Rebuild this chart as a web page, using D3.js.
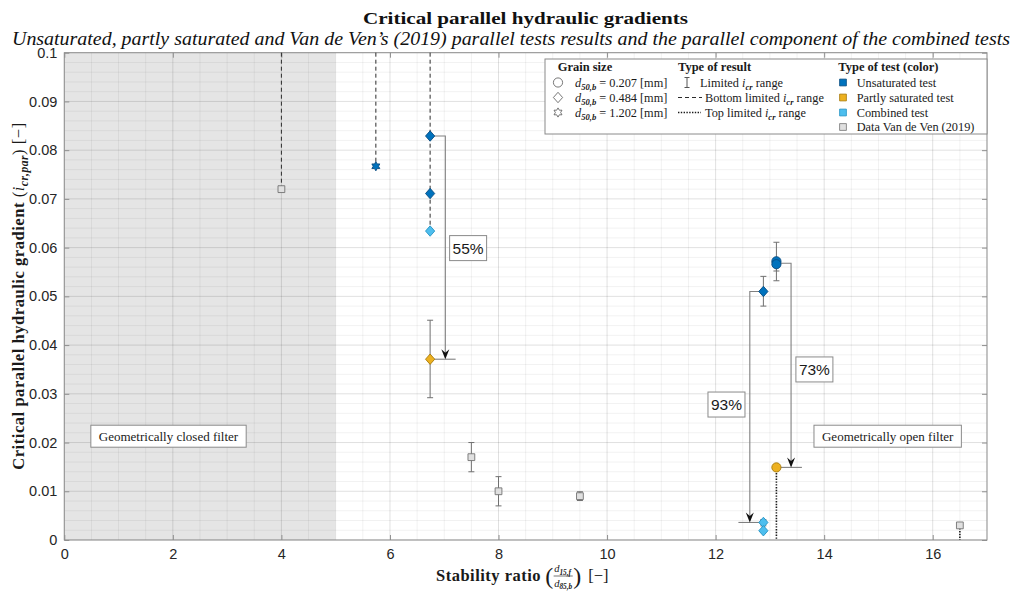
<!DOCTYPE html>
<html><head><meta charset="utf-8">
<script src="https://cdn.jsdelivr.net/npm/d3@7"></script>
<style>body{margin:0;background:#fff}svg{display:block}</style>
</head><body>
<svg id="c" width="1015" height="592"></svg>
<script>
// ---------------- data ----------------
const xTicks = [0, 2, 4, 6, 8, 10, 12, 14, 16];
const xTickLabels = ["0", "2", "4", "6", "8", "10", "12", "14", "16"];
const yTicks = [0, 0.01, 0.02, 0.03, 0.04, 0.05, 0.06, 0.07, 0.08, 0.09, 0.1];
const yTickLabels = ["0", "0.01", "0.02", "0.03", "0.04", "0.05", "0.06", "0.07", "0.08", "0.09", "0.1"];

// Unsaturated tests
const unsatX = [5.74, 6.74, 6.74, 13.12, 13.12, 12.88];
const unsatY = [0.0767, 0.0829, 0.0711, 0.0572, 0.0566, 0.0510];
const unsatLo = [null, null, null, 0.0532, 0.0552, 0.0480];
const unsatHi = [null, null, null, 0.0611, 0.0576, 0.0541];
const unsatGrain = ["1.202", "0.484", "0.484", "0.207", "0.207", "0.484"];
const unsatLimit = ["bottom", "bottom", "bottom", "range", "range", "range"];

// Partly saturated tests
const partX = [6.74, 13.12];
const partY = [0.0371, 0.0149];
const partLo = [0.0292, null];
const partHi = [0.0451, null];
const partGrain = ["0.484", "0.207"];
const partLimit = ["range", "top"];

// Combined tests (parallel component)
const combX = [6.74, 12.88, 12.88];
const combY = [0.0634, 0.0036, 0.0019];
const combLo = [null, 0.0029, null];
const combHi = [null, 0.0042, null];
const combGrain = ["0.484", "0.484", "0.484"];
const combLimit = ["bottom", "range", "none"];

// Van de Ven (2019)
const vdvX = [4, 7.5, 8, 9.5, 16.5];
const vdvY = [0.072, 0.017, 0.010, 0.009, 0.003];
const vdvLo = [null, 0.014, 0.007, 0.0081, null];
const vdvHi = [null, 0.020, 0.013, 0.0099, null];
const vdvLimit = ["bottom", "range", "range", "range", "top"];

// Geometrically closed filter region
const closedRange = [0, 5];

// Reduction annotations
const redLabels = ["55%", "93%", "73%"];
const redFromX = [6.74, 12.88, 13.12];
const redFromY = [0.0829, 0.0510, 0.0568];
const redTurnX = [7.02, 12.63, 13.39];
const redToY = [0.0371, 0.0036, 0.0149];
const redBaseX0 = [6.80, 12.42, 13.12];
const redBaseX1 = [7.21, 12.88, 13.59];
const redLabelX = [7.44, 12.20, 13.82];
const redLabelY = [0.0599, 0.0278, 0.0350];

// Region labels
const regionLabels = ["Geometrically closed filter", "Geometrically open filter"];
const regionX = [1.92, 15.17];
const regionY = [0.0213, 0.0213];

// Legend
const grainSizes = ["0.207", "0.484", "1.202"];
const resultTypes = ["Limited", "Bottom limited", "Top limited"];
const testTypes = ["Unsaturated test", "Partly saturated test", "Combined test", "Data Van de Ven (2019)"];

// ---------------- drawing ----------------
const svg = d3.select("#c");
const L = 64.3, R = 987, T = 52.7, B = 540;
const x = d3.scaleLinear().domain([0, 17]).range([L, R]);
const y = d3.scaleLinear().domain([0, 0.1]).range([B, T]);

const SERIF = "'Liberation Serif', 'Times New Roman', serif";
const SANS = "'Liberation Sans', Arial, Helvetica, sans-serif";
const AX = "#8f8f8f";

const colors = {
  unsat: {fill: "#0072BD", stroke: "#0a4c80"},
  part: {fill: "#EDB120", stroke: "#a77a0c"},
  comb: {fill: "#4DBEEE", stroke: "#2593c4"},
  vdv: {fill: "#e0e0e0", stroke: "#737373"}
};

// custom symbols
const diamondSym = {draw(ctx, s) { const w = 4.6, h = 5.2; ctx.moveTo(0, -h); ctx.lineTo(w, 0); ctx.lineTo(0, h); ctx.lineTo(-w, 0); ctx.closePath(); }};
const hexagramSym = {draw(ctx, s) {
  const ro = 4.6, ri = ro / Math.sqrt(3);
  for (let i = 0; i < 12; i++) {
    const a = -Math.PI / 2 + i * Math.PI / 6;
    const r = i % 2 === 0 ? ro : ri;
    const px = r * Math.cos(a), py = r * Math.sin(a);
    if (i === 0) ctx.moveTo(px, py); else ctx.lineTo(px, py);
  }
  ctx.closePath();
}};
const circleSym = {draw(ctx, s) { ctx.moveTo(4.6, 0); ctx.arc(0, 0, 4.6, 0, 2 * Math.PI); }};
const squareSym = {draw(ctx, s) { const h = 3.4; ctx.rect(-h, -h, 2 * h, 2 * h); }};
const symFor = g => g === "0.207" ? circleSym : g === "0.484" ? diamondSym : hexagramSym;

// background
svg.append("rect").attr("x", L).attr("y", T).attr("width", R - L).attr("height", B - T).attr("fill", "#fff");
// shaded closed-filter region
svg.append("rect").attr("x", x(closedRange[0])).attr("y", T)
  .attr("width", x(closedRange[1]) - x(closedRange[0])).attr("height", B - T).attr("fill", "#e5e5e5");

// grid
const grid = svg.append("g");
d3.range(0, 17.001, 0.5).forEach(v => {
  const major = Math.abs(v / 2 - Math.round(v / 2)) < 1e-6;
  grid.append("line").attr("x1", x(v)).attr("x2", x(v)).attr("y1", T).attr("y2", B)
    .attr("stroke", major ? "rgba(0,0,0,0.12)" : "rgba(0,0,0,0.055)").attr("stroke-width", 1);
});
d3.range(0, 0.10001, 0.002).forEach(v => {
  const major = Math.abs(v / 0.01 - Math.round(v / 0.01)) < 1e-6;
  grid.append("line").attr("x1", L).attr("x2", R).attr("y1", y(v)).attr("y2", y(v))
    .attr("stroke", major ? "rgba(0,0,0,0.12)" : "rgba(0,0,0,0.055)").attr("stroke-width", 1);
});

// axes
const xAxis = svg.append("g").attr("transform", `translate(0,${B})`)
  .call(d3.axisBottom(x).tickValues(xTicks).tickFormat((d, i) => xTickLabels[i]).tickSizeInner(-5).tickSizeOuter(0).tickPadding(9));
const xAxisTop = svg.append("g").attr("transform", `translate(0,${T})`)
  .call(d3.axisTop(x).tickValues(xTicks).tickFormat("").tickSizeInner(-5).tickSizeOuter(0));
const yAxis = svg.append("g").attr("transform", `translate(${L},0)`)
  .call(d3.axisLeft(y).tickValues(yTicks).tickFormat((d, i) => yTickLabels[i]).tickSizeInner(-5).tickSizeOuter(0).tickPadding(7));
const yAxisR = svg.append("g").attr("transform", `translate(${R},0)`)
  .call(d3.axisRight(y).tickValues(yTicks).tickFormat("").tickSizeInner(-5).tickSizeOuter(0));
[xAxis, xAxisTop, yAxis, yAxisR].forEach(a => {
  a.select(".domain").remove();
  a.selectAll(".tick line").attr("stroke", AX);
  a.selectAll(".tick text").attr("font-family", SANS).attr("font-size", 14.5).attr("fill", "#262626");
});
svg.append("rect").attr("x", L).attr("y", T).attr("width", R - L).attr("height", B - T)
  .attr("fill", "none").attr("stroke", AX).attr("stroke-width", 1);

// series
const series = [
  {key: "vdv", xs: vdvX, ys: vdvY, lo: vdvLo, hi: vdvHi, grain: vdvX.map(() => "sq"), limit: vdvLimit},
  {key: "unsat", xs: unsatX, ys: unsatY, lo: unsatLo, hi: unsatHi, grain: unsatGrain, limit: unsatLimit},
  {key: "part", xs: partX, ys: partY, lo: partLo, hi: partHi, grain: partGrain, limit: partLimit},
  {key: "comb", xs: combX, ys: combY, lo: combLo, hi: combHi, grain: combGrain, limit: combLimit}
];
const lineG = svg.append("g");
const errG = svg.append("g");
const arrowG = svg.append("g");
const markG = svg.append("g");

// bottom-limited results: one dashed line per x position, from the top edge down to the lowest such point
const bottomLowest = new Map();
series.forEach(s => s.xs.forEach((xv, i) => {
  if (s.limit[i] === "bottom") {
    const prev = bottomLowest.get(xv);
    bottomLowest.set(xv, prev == null ? s.ys[i] : Math.min(prev, s.ys[i]));
  }
}));
bottomLowest.forEach((yv, xv) => {
  lineG.append("line").attr("x1", x(xv)).attr("x2", x(xv)).attr("y1", y(0.1)).attr("y2", y(yv))
    .attr("stroke", "#2b2b2b").attr("stroke-width", 1).attr("stroke-dasharray", "4,3");
});

series.forEach(s => {
  s.xs.forEach((xv, i) => {
    const lim = s.limit[i];
    if (lim === "top") {
      lineG.append("line").attr("x1", x(xv)).attr("x2", x(xv)).attr("y1", y(s.ys[i])).attr("y2", y(0))
        .attr("stroke", "#1a1a1a").attr("stroke-width", 1.6).attr("stroke-dasharray", "1.4,1.4");
    } else if (lim === "range" && s.lo[i] != null) {
      const cx = x(xv), y1 = y(s.lo[i]), y2 = y(s.hi[i]);
      errG.append("line").attr("x1", cx).attr("x2", cx).attr("y1", y1).attr("y2", y2).attr("stroke", "#707070").attr("stroke-width", 1);
      [y1, y2].forEach(yy => errG.append("line").attr("x1", cx - 3).attr("x2", cx + 3).attr("y1", yy).attr("y2", yy).attr("stroke", "#707070").attr("stroke-width", 1));
    }
  });
});

// reduction arrows
redLabels.forEach((lab, i) => {
  const fx = x(redFromX[i]), fy = y(redFromY[i]), tx = x(redTurnX[i]), ty = y(redToY[i]);
  arrowG.append("path").attr("d", `M${fx},${fy}H${tx}V${ty - 2}`).attr("fill", "none").attr("stroke", "#808080").attr("stroke-width", 1.1);
  arrowG.append("line").attr("x1", x(redBaseX0[i])).attr("x2", x(redBaseX1[i])).attr("y1", ty).attr("y2", ty)
    .attr("stroke", "#808080").attr("stroke-width", 1.1);
  arrowG.append("path").attr("d", `M${tx},${ty}L${tx - 4},${ty - 10}L${tx},${ty - 6.5}L${tx + 4},${ty - 10}Z`).attr("fill", "#111");
});

// markers
series.forEach(s => {
  s.xs.forEach((xv, i) => {
    const sym = s.grain[i] === "sq" ? squareSym : symFor(s.grain[i]);
    markG.append("path").attr("d", d3.symbol().type(sym)())
      .attr("transform", `translate(${x(xv)},${y(s.ys[i])})`)
      .attr("fill", colors[s.key].fill).attr("stroke", colors[s.key].stroke).attr("stroke-width", 0.9);
  });
});

// reduction labels
const labG = svg.append("g");
redLabels.forEach((lab, i) => {
  const cx = x(redLabelX[i]), cy = y(redLabelY[i]);
  labG.append("rect").attr("x", cx - 18.5).attr("y", cy - 12.5).attr("width", 37).attr("height", 25)
    .attr("fill", "#fff").attr("stroke", "#8a8a8a").attr("stroke-width", 1);
  labG.append("text").attr("x", cx).attr("y", cy + 5.5).attr("text-anchor", "middle")
    .attr("font-family", SANS).attr("font-size", 15.5).attr("fill", "#1a1a1a").text(lab);
});

// region labels
regionLabels.forEach((lab, i) => {
  const cx = x(regionX[i]), cy = y(regionY[i]);
  const t = labG.append("text").attr("x", cx).attr("y", cy + 4.3).attr("text-anchor", "middle")
    .attr("font-family", SERIF).attr("font-size", 13).attr("fill", "#1a1a1a").text(lab);
  const w = t.node().getComputedTextLength();
  labG.insert("rect", "text").attr("x", cx - w / 2 - 8).attr("y", cy - 11).attr("width", w + 16).attr("height", 22)
    .attr("fill", "#fff").attr("stroke", "#8a8a8a").attr("stroke-width", 1);
});

// helper for text with math parts
function mathText(parent, xx, yy, parts, size, anchor, ls) {
  const t = parent.append("text").attr("x", xx).attr("y", yy).attr("font-family", SERIF)
    .attr("font-size", size).attr("fill", "#1a1a1a").attr("text-anchor", anchor || "start");
  if (ls) t.attr("letter-spacing", ls);
  let shift = 0;
  parts.forEach(p => {
    const [str, st] = p;
    const ts = t.append("tspan").text(str);
    let target = 0;
    if (st.includes("sub")) { ts.attr("font-size", size * 0.7); target = size * 0.25; }
    if (st.includes("i")) ts.attr("font-style", "italic");
    if (st.includes("b")) ts.attr("font-weight", "bold");
    if (target !== shift) { ts.attr("dy", target - shift); shift = target; }
  });
  return t;
}

// legend
const lg = svg.append("g");
lg.append("rect").attr("x", 545).attr("y", 59).attr("width", 442).attr("height", 75)
  .attr("fill", "#fff").attr("stroke", "#8a8a8a").attr("stroke-width", 1);
const headY = 71, rowY = [86.5, 101.5, 116.5, 131];
[["Grain size", 557.7], ["Type of result", 678], ["Type of test (color)", 838.3]].forEach(h => {
  lg.append("text").attr("x", h[1]).attr("y", headY).attr("font-family", SERIF).attr("font-weight", "bold")
    .attr("font-size", 12.5).attr("fill", "#1a1a1a").text(h[0]);
});
grainSizes.forEach((g, i) => {
  lg.append("path").attr("d", d3.symbol().type(symFor(g))()).attr("transform", `translate(558,${rowY[i] - 4})`)
    .attr("fill", "#fff").attr("stroke", "#555").attr("stroke-width", 0.8);
  mathText(lg, 575, rowY[i], [["d", "i"], ["50,b", "i sub"], [" = " + g + " [mm]", ""]], 12.3);
});
resultTypes.forEach((r, i) => {
  const cy = rowY[i] - 4;
  if (i === 0) {
    lg.append("line").attr("x1", 687).attr("x2", 687).attr("y1", cy - 5).attr("y2", cy + 5).attr("stroke", "#555");
    [cy - 5, cy + 5].forEach(yy => lg.append("line").attr("x1", 684.5).attr("x2", 689.5).attr("y1", yy).attr("y2", yy).attr("stroke", "#555"));
  } else if (i === 1) {
    lg.append("line").attr("x1", 678).attr("x2", 702).attr("y1", cy).attr("y2", cy).attr("stroke", "#2b2b2b").attr("stroke-dasharray", "4,3");
  } else {
    lg.append("line").attr("x1", 678).attr("x2", 701).attr("y1", cy).attr("y2", cy).attr("stroke", "#1a1a1a").attr("stroke-width", 1.6).attr("stroke-dasharray", "1.4,1.4");
  }
  const tx = i === 0 ? 700 : 705;
  mathText(lg, tx, rowY[i], [[r + " ", ""], ["i", "i"], ["cr", "i sub"], [" range", ""]], 12.3);
});
const legKeys = ["unsat", "part", "comb", "vdv"];
testTypes.forEach((t, i) => {
  lg.append("path").attr("d", d3.symbol().type(squareSym)()).attr("transform", `translate(843,${rowY[i] - 4})`)
    .attr("fill", colors[legKeys[i]].fill).attr("stroke", colors[legKeys[i]].stroke).attr("stroke-width", 0.8);
  lg.append("text").attr("x", 856.7).attr("y", rowY[i]).attr("font-family", SERIF).attr("font-size", 12.3)
    .attr("fill", "#1a1a1a").text(t);
});

// titles
svg.append("text").attr("x", 525.5).attr("y", 23.5).attr("text-anchor", "middle").attr("font-family", SERIF)
  .attr("font-weight", "bold").attr("font-size", 17).attr("fill", "#111")
  .attr("textLength", 325).attr("lengthAdjust", "spacingAndGlyphs").text("Critical parallel hydraulic gradients");
svg.append("text").attr("x", 511).attr("y", 44.5).attr("text-anchor", "middle").attr("font-family", SERIF)
  .attr("font-style", "italic").attr("font-size", 18).attr("fill", "#111")
  .attr("textLength", 998).attr("lengthAdjust", "spacingAndGlyphs")
  .text("Unsaturated, partly saturated and Van de Ven\u2019s (2019) parallel tests results and the parallel component of the combined tests");

// y label
const yl = svg.append("g").attr("transform", "translate(24,296) rotate(-90)");
mathText(yl, 0, 0, [["Critical parallel hydraulic gradient", "b"], ["  (", ""], ["i", "i"], ["cr,par", "i sub"], [")  [\u2212]", ""]], 16.5, "middle", 0.55);

// x label
const xl = svg.append("g");
const xBase = 581;
const t1 = xl.append("text").attr("x", 436).attr("y", xBase).attr("font-family", SERIF).attr("font-weight", "bold")
  .attr("font-size", 16.5).attr("letter-spacing", 0.5).attr("fill", "#1a1a1a").text("Stability ratio");
let cx0 = 436 + t1.node().getComputedTextLength() + 4;
const pl = xl.append("text").attr("x", cx0).attr("y", xBase + 3).attr("font-family", SERIF).attr("font-size", 24).attr("fill", "#1a1a1a").text("(");
cx0 += pl.node().getComputedTextLength() + 1;
const num = mathText(xl, cx0, xBase - 9, [["d", "i"], ["15,f", "i sub"]], 10.5);
const den = mathText(xl, cx0, xBase + 5.5, [["d", "i"], ["85,b", "i sub"]], 10.5);
const fw = Math.max(num.node().getComputedTextLength(), den.node().getComputedTextLength());
xl.append("line").attr("x1", cx0 - 0.5).attr("x2", cx0 + fw + 0.5).attr("y1", xBase - 5).attr("y2", xBase - 5).attr("stroke", "#1a1a1a").attr("stroke-width", 0.6);
cx0 += fw + 1;
const pr = xl.append("text").attr("x", cx0).attr("y", xBase + 3).attr("font-family", SERIF).attr("font-size", 24).attr("fill", "#1a1a1a").text(")");
cx0 += pr.node().getComputedTextLength() + 7;
xl.append("text").attr("x", cx0).attr("y", xBase).attr("font-family", SERIF).attr("font-size", 16.5).attr("fill", "#1a1a1a").text("[\u2212]");
</script>
</body></html>
